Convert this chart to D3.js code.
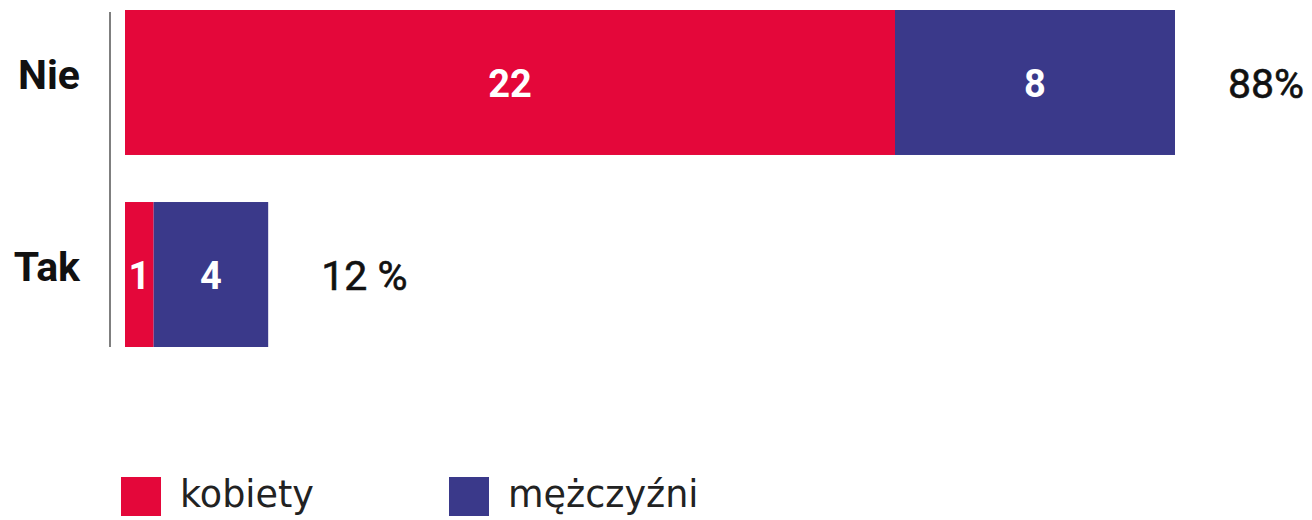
<!DOCTYPE html>
<html>
<head>
<meta charset="utf-8">
<script src="https://cdn.jsdelivr.net/npm/d3@7"></script>
<style>
  body { margin: 0; background: #fff; }
</style>
</head>
<body>
<div id="chart"></div>
<script>
var categories = ['Nie', 'Tak'];
var kobiety = [22, 1];
var mezczyzni = [8, 4];
var percent = [88, 12];
var percentLabels = ['88%', '12 %'];
var seriesNames = ['kobiety', 'mężczyźni'];

var width = 1312, height = 520;
var red = '#E4073A', blue = '#3A398A';
var color = d3.scaleOrdinal().domain(seriesNames).range([red, blue]);

var svg = d3.select('#chart')
    .append('svg')
    .attr('width', width)
    .attr('height', height);

// bar length follows the percentage, split by the counts
var x = d3.scaleLinear().domain([0, 88]).range([125, 1175]);
var y = d3.scaleBand().domain(categories).range([10, 347]).paddingInner(0.245);

var rows = categories.map(function (c, i) {
    var total = kobiety[i] + mezczyzni[i];
    var k = percent[i] * kobiety[i] / total;
    return {
        cat: c,
        pct: percent[i],
        label: percentLabels[i],
        segs: [
            { name: seriesNames[0], value: kobiety[i], x0: 0, x1: k },
            { name: seriesNames[1], value: mezczyzni[i], x0: k, x1: percent[i] }
        ]
    };
});

var rowG = svg.selectAll('.row')
    .data(rows)
    .enter()
    .append('g')
    .attr('class', 'row')
    .attr('transform', d => 'translate(0,' + y(d.cat) + ')');

rowG.selectAll('rect')
    .data(d => d.segs)
    .enter()
    .append('rect')
    .attr('x', d => x(d.x0))
    .attr('width', d => x(d.x1) - x(d.x0))
    .attr('height', y.bandwidth())
    .attr('fill', d => color(d.name));

rowG.selectAll('.val')
    .data(d => d.segs)
    .enter()
    .append('text')
    .attr('class', 'val')
    .attr('x', d => (x(d.x0) + x(d.x1)) / 2)
    .attr('y', y.bandwidth() / 2 + 1)
    .attr('dy', '0.36em')
    .attr('text-anchor', 'middle')
    .style('font-family', 'Roboto, sans-serif')
    .style('font-weight', 'bold')
    .style('font-size', '38px')
    .style('fill', '#fff')
    .text(d => d.value);

rowG.append('text')
    .attr('x', d => x(d.pct) + 53)
    .attr('y', y.bandwidth() / 2 + 1)
    .attr('dy', '0.36em')
    .style('font-family', 'Roboto, sans-serif')
    .style('font-weight', 400)
    .style('font-size', '41px')
    .style('fill', '#111')
    .style('stroke', '#111')
    .style('stroke-width', 0.6)
    .text(d => d.label);

// category labels and the axis line
rowG.append('text')
    .attr('x', 80)
    .attr('y', y.bandwidth() / 2 - 8)
    .attr('dy', '0.36em')
    .attr('text-anchor', 'end')
    .style('font-family', 'Roboto, sans-serif')
    .style('font-weight', 'bold')
    .style('font-size', '41px')
    .style('fill', '#111')
    .text(d => d.cat);

svg.append('line')
    .attr('x1', 110).attr('x2', 110)
    .attr('y1', 12).attr('y2', y.range()[1])
    .attr('stroke', '#555')
    .attr('stroke-width', 1.5);

// legend
var legendX = [121, 449];
var legend = svg.selectAll('.legend')
    .data(seriesNames)
    .enter()
    .append('g')
    .attr('class', 'legend')
    .attr('transform', (d, i) => 'translate(' + legendX[i] + ',477)');

legend.append('rect')
    .attr('width', 40)
    .attr('height', 39)
    .attr('fill', d => color(d));

legend.append('text')
    .attr('x', 59)
    .attr('y', 30)
    .style('font-family', '"DejaVu Sans", sans-serif')
    .style('font-size', '36.5px')
    .style('fill', '#222')
    .text(d => d);
</script>
</body>
</html>
